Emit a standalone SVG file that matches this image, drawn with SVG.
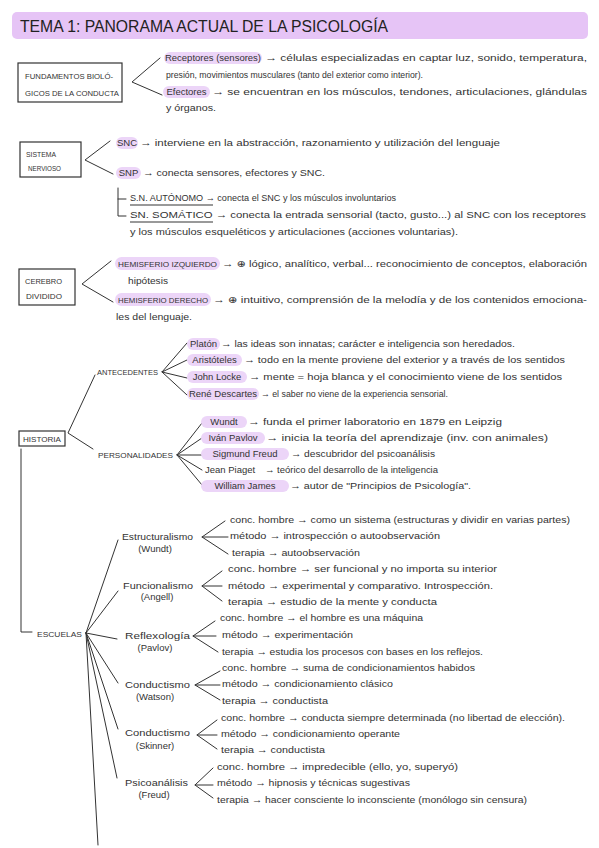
<svg xmlns="http://www.w3.org/2000/svg" width="599" height="848" viewBox="0 0 599 848">
<style>
.t{font-family:"Liberation Sans","DejaVu Sans",sans-serif;font-size:9.5px;fill:#333}
.c{font-family:"Liberation Sans","DejaVu Sans",sans-serif;font-size:8px;fill:#333}
.m{text-anchor:middle}
.hl{fill:#ecd5f8}
.ln{fill:none;stroke:#333;stroke-width:1;stroke-linecap:round;stroke-linejoin:round}
.box{fill:#fff;stroke:#333;stroke-width:1.2}
.ul{stroke:#777;stroke-width:1.4}
</style>
<rect width="599" height="848" fill="#fff"/>

<g id="title">
<rect x="12" y="12" width="576" height="27" rx="5" fill="#e6c4f6"/>
<text x="20" y="32" style="font-family:'Liberation Sans',sans-serif;font-size:16px;fill:#222" textLength="368" lengthAdjust="spacingAndGlyphs">TEMA 1: PANORAMA ACTUAL DE LA PSICOLOGÍA</text>
</g>

<g id="connectors">
<path class="ln" d="M160,58 L132,82 L162,95"/>
<path class="ln" d="M110,141 L85,160 L113,174"/>
<path class="ln" d="M118,188 V216 H126 M118,199 H126"/>
<path class="ln" d="M111,261 L82,284 L113,302"/>
<path class="ln" d="M95,375 L68,433 L93,449"/>
<path class="ln" d="M187,343 L162,372 L187,360 M162,372 L187,378 M162,372 L187,395"/>
<path class="ln" d="M202,423 L177,455 L202,438 M177,455 L202,455 M177,455 L202,470 M177,455 L202,485"/>
<path class="ln" d="M21,449 V632 H32"/>
<path class="ln" d="M86,633 L118,540 M86,633 L118,591 M86,633 L117,639 M86,633 L118,683 M86,633 L118,729 M86,633 L117,778 M86,633 L98,845"/>
<path class="ln" d="M225,521 L202,537 L228,554 M202,537 H228"/>
<path class="ln" d="M222,571 L202,586 L222,601 M202,586 H222"/>
<path class="ln" d="M215,621 L193,636 L218,652 M193,636 H216"/>
<path class="ln" d="M220,671 L195,685 L220,700 M195,685 H220"/>
<path class="ln" d="M217,720 L197,735 L217,749 M197,735 H217"/>
<path class="ln" d="M213,768 L195,785 L213,798 M195,785 H213"/>
</g>

<g id="fundamentos">
<rect class="box" x="18" y="63" width="104" height="39"/>
<text class="c" x="25" y="79" textLength="88" lengthAdjust="spacingAndGlyphs">FUNDAMENTOS BIOLÓ-</text>
<text class="c" x="25" y="96" textLength="94" lengthAdjust="spacingAndGlyphs">GICOS DE LA CONDUCTA</text>
</g>
<g id="receptores">
<rect class="hl" x="164" y="52" width="98" height="12" rx="6"/>
<text class="t m" x="213" y="61">Receptores (sensores)</text>
<text class="t" x="265" y="61" textLength="322" lengthAdjust="spacingAndGlyphs">→ células especializadas en captar luz, sonido, temperatura,</text>
<text class="t" x="166" y="78" textLength="257" lengthAdjust="spacingAndGlyphs">presión, movimientos musculares (tanto del exterior como interior).</text>
</g>
<g id="efectores">
<rect class="hl" x="163" y="86" width="47" height="12" rx="6"/>
<text class="t m" x="186.5" y="95">Efectores</text>
<text class="t" x="212" y="95" textLength="375" lengthAdjust="spacingAndGlyphs">→ se encuentran en los músculos, tendones, articulaciones, glándulas</text>
<text class="t" x="166" y="111" textLength="50" lengthAdjust="spacingAndGlyphs">y órganos.</text>
</g>

<g id="sistema-nervioso">
<rect class="box" x="20" y="142" width="61" height="35"/>
<text class="c" x="26" y="157" textLength="30" lengthAdjust="spacingAndGlyphs">SISTEMA</text>
<text class="c" x="28" y="171" textLength="33" lengthAdjust="spacingAndGlyphs">NERVIOSO</text>
</g>
<g id="snc">
<rect class="hl" x="116" y="137" width="22" height="12" rx="6"/>
<text class="t m" x="127" y="146">SNC</text>
<text class="t" x="140" y="146" textLength="360" lengthAdjust="spacingAndGlyphs">→ interviene en la abstracción, razonamiento y utilización del lenguaje</text>
</g>
<g id="snp">
<rect class="hl" x="116" y="167" width="25" height="12" rx="6"/>
<text class="t m" x="128.5" y="176">SNP</text>
<text class="t" x="143" y="176" textLength="182" lengthAdjust="spacingAndGlyphs">→ conecta sensores, efectores y SNC.</text>
</g>
<g id="sn-autonomo">
<text class="t" x="130" y="201" textLength="266" lengthAdjust="spacingAndGlyphs">S.N. AUTÓNOMO → conecta el SNC y los músculos involuntarios</text>
<line class="ul" x1="130" y1="205" x2="213" y2="205"/>
</g>
<g id="sn-somatico">
<text class="t" x="130" y="218" textLength="456" lengthAdjust="spacingAndGlyphs">SN. SOMÁTICO → conecta la entrada sensorial (tacto, gusto...) al SNC con los receptores</text>
<line class="ul" x1="130" y1="222" x2="213" y2="222"/>
<text class="t" x="130" y="235" textLength="328" lengthAdjust="spacingAndGlyphs">y los músculos esqueléticos y articulaciones (acciones voluntarias).</text>
</g>

<g id="cerebro">
<rect class="box" x="19" y="269" width="56" height="36"/>
<text class="c" x="25" y="284" textLength="37" lengthAdjust="spacingAndGlyphs">CEREBRO</text>
<text class="c" x="26" y="299" textLength="36" lengthAdjust="spacingAndGlyphs">DIVIDIDO</text>
</g>
<g id="hemisferio-izquierdo">
<rect class="hl" x="115" y="257" width="105" height="13" rx="6.5"/>
<text class="c" x="118" y="267" textLength="99" lengthAdjust="spacingAndGlyphs">HEMISFERIO IZQUIERDO</text>
<text class="t" x="222" y="267" textLength="365" lengthAdjust="spacingAndGlyphs">→ ⊕ lógico, analítico, verbal... reconocimiento de conceptos, elaboración</text>
<text class="t" x="128" y="284" textLength="40" lengthAdjust="spacingAndGlyphs">hipótesis</text>
</g>
<g id="hemisferio-derecho">
<rect class="hl" x="115" y="293" width="96" height="13" rx="6.5"/>
<text class="c" x="118" y="303" textLength="90" lengthAdjust="spacingAndGlyphs">HEMISFERIO DERECHO</text>
<text class="t" x="213" y="303" textLength="374" lengthAdjust="spacingAndGlyphs">→ ⊕ intuitivo, comprensión de la melodía y de los contenidos emociona-</text>
<text class="t" x="116" y="320" textLength="76" lengthAdjust="spacingAndGlyphs">les del lenguaje.</text>
</g>

<g id="historia">
<rect class="box" x="19" y="431" width="46" height="15"/>
<text class="c" x="23" y="441.5" textLength="38" lengthAdjust="spacingAndGlyphs">HISTORIA</text>
</g>
<g id="antecedentes">
<text class="c" x="97" y="375" textLength="61" lengthAdjust="spacingAndGlyphs">ANTECEDENTES</text>
</g>
<g id="platon">
<rect class="hl" x="187" y="338" width="33" height="12" rx="6"/>
<text class="t m" x="203.5" y="347">Platón</text>
<text class="t" x="221" y="347" textLength="294" lengthAdjust="spacingAndGlyphs">→ las ideas son innatas; carácter e inteligencia son heredados.</text>
</g>
<g id="aristoteles">
<rect class="hl" x="187" y="354" width="55" height="12" rx="6"/>
<text class="t m" x="214.5" y="363">Aristóteles</text>
<text class="t" x="244" y="363" textLength="321" lengthAdjust="spacingAndGlyphs">→ todo en la mente proviene del exterior y a través de los sentidos</text>
</g>
<g id="locke">
<rect class="hl" x="187" y="371" width="60" height="12" rx="6"/>
<text class="t m" x="217" y="380">John Locke</text>
<text class="t" x="249" y="380" textLength="313" lengthAdjust="spacingAndGlyphs">→ mente = hoja blanca y el conocimiento viene de los sentidos</text>
</g>
<g id="descartes">
<rect class="hl" x="187" y="388" width="72" height="12" rx="6"/>
<text class="t m" x="223" y="397">René Descartes</text>
<text class="t" x="261" y="397" textLength="187" lengthAdjust="spacingAndGlyphs">→ el saber no viene de la experiencia sensorial.</text>
</g>

<g id="personalidades">
<text class="c" x="98" y="458" textLength="75" lengthAdjust="spacingAndGlyphs">PERSONALIDADES</text>
</g>
<g id="wundt">
<rect class="hl" x="201" y="416" width="46" height="12" rx="6"/>
<text class="t m" x="224" y="425">Wundt</text>
<text class="t" x="248" y="425" textLength="254" lengthAdjust="spacingAndGlyphs">→ funda el primer laboratorio en 1879 en Leipzig</text>
</g>
<g id="pavlov">
<rect class="hl" x="201" y="432" width="64" height="12" rx="6"/>
<text class="t m" x="233" y="441">Iván Pavlov</text>
<text class="t" x="266" y="441" textLength="282" lengthAdjust="spacingAndGlyphs">→ inicia la teoría del aprendizaje (inv. con animales)</text>
</g>
<g id="freud">
<rect class="hl" x="201" y="448" width="88" height="12" rx="6"/>
<text class="t m" x="245" y="457">Sigmund Freud</text>
<text class="t" x="291" y="457" textLength="144" lengthAdjust="spacingAndGlyphs">→ descubridor del psicoanálisis</text>
</g>
<g id="piaget">
<text class="t" x="205" y="473">Jean Piaget</text>
<text class="t" x="265" y="473" textLength="173" lengthAdjust="spacingAndGlyphs">→ teórico del desarrollo de la inteligencia</text>
</g>
<g id="james">
<rect class="hl" x="201" y="480" width="88" height="12" rx="6"/>
<text class="t m" x="245" y="489">William James</text>
<text class="t" x="290" y="489" textLength="181" lengthAdjust="spacingAndGlyphs">→ autor de "Principios de Psicología".</text>
</g>

<g id="escuelas">
<text class="c" x="37" y="637" textLength="45" lengthAdjust="spacingAndGlyphs">ESCUELAS</text>
</g>
<g id="estructuralismo">
<text class="t" x="122" y="540" textLength="71" lengthAdjust="spacingAndGlyphs">Estructuralismo</text>
<text class="t m" x="155" y="552">(Wundt)</text>
<text class="t" x="230" y="523" textLength="340" lengthAdjust="spacingAndGlyphs">conc. hombre → como un sistema (estructuras y dividir en varias partes)</text>
<text class="t" x="230" y="539" textLength="210" lengthAdjust="spacingAndGlyphs">método → introspección o autoobservación</text>
<text class="t" x="232" y="556" textLength="128" lengthAdjust="spacingAndGlyphs">terapia → autoobservación</text>
</g>
<g id="funcionalismo">
<text class="t" x="123" y="589" textLength="70" lengthAdjust="spacingAndGlyphs">Funcionalismo</text>
<text class="t m" x="157" y="600">(Angell)</text>
<text class="t" x="228" y="572" textLength="269" lengthAdjust="spacingAndGlyphs">conc. hombre → ser funcional y no importa su interior</text>
<text class="t" x="228" y="589" textLength="265" lengthAdjust="spacingAndGlyphs">método → experimental y comparativo. Introspección.</text>
<text class="t" x="228" y="605" textLength="209" lengthAdjust="spacingAndGlyphs">terapia → estudio de la mente y conducta</text>
</g>
<g id="reflexologia">
<text class="t" x="125" y="639" textLength="65" lengthAdjust="spacingAndGlyphs">Reflexología</text>
<text class="t m" x="155" y="651">(Pavlov)</text>
<text class="t" x="220" y="621" textLength="203" lengthAdjust="spacingAndGlyphs">conc. hombre → el hombre es una máquina</text>
<text class="t" x="222" y="638" textLength="131" lengthAdjust="spacingAndGlyphs">método → experimentación</text>
<text class="t" x="222" y="655" textLength="261" lengthAdjust="spacingAndGlyphs">terapia → estudia los procesos con bases en los reflejos.</text>
</g>
<g id="conductismo-watson">
<text class="t" x="125" y="688" textLength="65" lengthAdjust="spacingAndGlyphs">Conductismo</text>
<text class="t m" x="155" y="700">(Watson)</text>
<text class="t" x="222" y="671" textLength="253" lengthAdjust="spacingAndGlyphs">conc. hombre → suma de condicionamientos habidos</text>
<text class="t" x="222" y="687" textLength="171" lengthAdjust="spacingAndGlyphs">método → condicionamiento clásico</text>
<text class="t" x="222" y="704" textLength="106" lengthAdjust="spacingAndGlyphs">terapia → conductista</text>
</g>
<g id="conductismo-skinner">
<text class="t" x="125" y="736" textLength="65" lengthAdjust="spacingAndGlyphs">Conductismo</text>
<text class="t m" x="155" y="749">(Skinner)</text>
<text class="t" x="221" y="721" textLength="344" lengthAdjust="spacingAndGlyphs">conc. hombre → conducta siempre determinada (no libertad de elección).</text>
<text class="t" x="221" y="737" textLength="179" lengthAdjust="spacingAndGlyphs">método → condicionamiento operante</text>
<text class="t" x="221" y="753" textLength="104" lengthAdjust="spacingAndGlyphs">terapia → conductista</text>
</g>
<g id="psicoanalisis">
<text class="t" x="125" y="786" textLength="63" lengthAdjust="spacingAndGlyphs">Psicoanálisis</text>
<text class="t m" x="154" y="798">(Freud)</text>
<text class="t" x="217" y="770" textLength="241" lengthAdjust="spacingAndGlyphs">conc. hombre → impredecible (ello, yo, superyó)</text>
<text class="t" x="217" y="786" textLength="193" lengthAdjust="spacingAndGlyphs">método → hipnosis y técnicas sugestivas</text>
<text class="t" x="217" y="803" textLength="310" lengthAdjust="spacingAndGlyphs">terapia → hacer consciente lo inconsciente (monólogo sin censura)</text>
</g>
</svg>
